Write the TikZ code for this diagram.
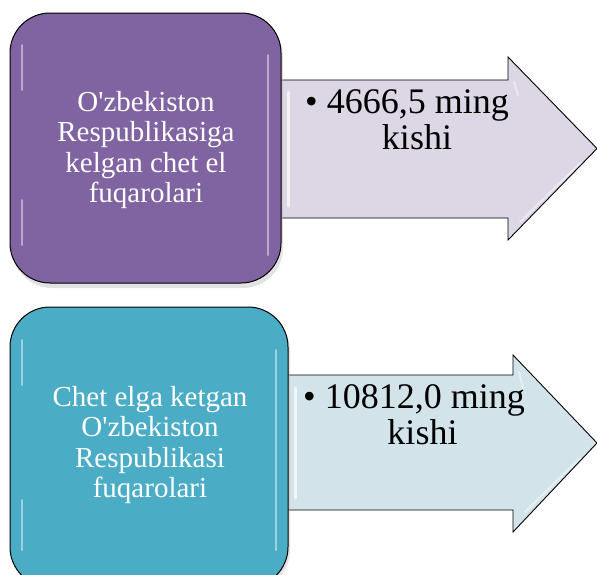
\documentclass[tikz,border=0pt]{standalone}
\usepackage{fontspec}
\setmainfont{Liberation Serif}
\newfontfamily\plainserif{Liberation Serif}
\definecolor{purplebox}{HTML}{8064A2}
\definecolor{purplearrow}{HTML}{DCD6E5}
\definecolor{tealbox}{HTML}{4BACC6}
\definecolor{tealarrow}{HTML}{D2E4EA}
\begin{document}
\begin{tikzpicture}[x=1pt,y=-1pt,
  box/.style={draw=black, line width=1pt, rounded corners=40pt},
  shadowbox/.style={fill=black!25, opacity=0.45, rounded corners=40pt},
  arrowshape/.style={draw=black, line width=0.9pt},
  gloss/.style={draw=white, opacity=0.45, line width=2pt, line cap=round},
  boxtext/.style={text=white, align=center, font=\plainserif\fontsize{29}{30.5}\selectfont},
  arrtext/.style={text=black, align=center, font=\plainserif\fontsize{36}{36}\selectfont}]
\useasboundingbox (0,0) rectangle (597,574);
% ---------- top row ----------
\draw[arrowshape, fill=purplearrow] (270,80) -- (508,80) -- (508,57) -- (597,148.5) -- (508,240) -- (508,218) -- (270,218) -- cycle;
\draw[gloss, opacity=0.7, line width=3pt] (288,92) -- (288,206);
\draw[gloss] (514,82) -- (518,95);
\draw[gloss] (520,222) -- (580,163);
\fill[shadowbox] (12,17) rectangle (283,288);
\draw[box, fill=purplebox] (10,13) rectangle (281,283);
\draw[gloss] (22,45) -- (22,90);
\draw[gloss] (22,200) -- (22,245);
\draw[gloss] (268,55) -- (268,255);
\node[boxtext] (t1) at (146,150) {O'zbekiston\\Respublikasiga\\kelgan chet el\\fuqarolari};
\node[arrtext, anchor=north] (a1) at (407,86) {• 4666,5 ming\\\hspace*{20pt}kishi};
% ---------- bottom row ----------
\draw[arrowshape, fill=tealarrow] (280,375) -- (513,375) -- (513,355) -- (597,443) -- (513,532) -- (513,510) -- (280,510) -- cycle;
\draw[gloss, opacity=0.7, line width=3pt] (295,388) -- (295,498);
\draw[gloss] (519,372) -- (523,388);
\draw[gloss] (525,512) -- (580,458);
\fill[shadowbox] (12,311) rectangle (290,590);
\draw[box, fill=tealbox] (10,307) rectangle (288,587);
\draw[gloss] (22,340) -- (22,385);
\draw[gloss] (22,500) -- (22,550);
\draw[gloss] (276,350) -- (276,550);
\node[boxtext] (t2) at (150,445) {Chet elga ketgan\\O'zbekiston\\Respublikasi\\fuqarolari};
\node[arrtext, anchor=north] (a2) at (414,381) {• 10812,0 ming\\\hspace*{17pt}kishi};
\end{tikzpicture}
\end{document}
